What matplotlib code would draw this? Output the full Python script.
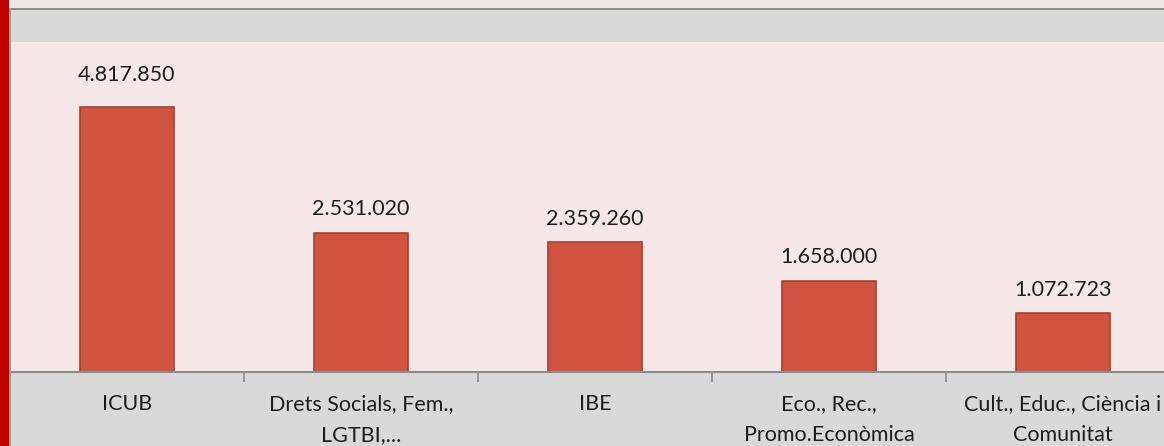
import matplotlib.pyplot as plt
from matplotlib.patches import Rectangle
import numpy as np

# data
categories = ["ICUB", "Drets Socials, Fem.,\nLGTBI,...", "IBE",
              "Eco., Rec.,\nPromo.Econòmica", "Cult., Educ., Ciència i\nComunitat"]
values = [4817850, 2531020, 2359260, 1658000, 1072723]
value_labels = ["4.817.850", "2.531.020", "2.359.260", "1.658.000", "1.072.723"]

plt.rcParams['font.family'] = ['Lato', 'DejaVu Sans']

W, H = 1164, 446
fig = plt.figure(figsize=(W / 100, H / 100), dpi=100)
fig.patch.set_facecolor('#d9d9d9')

def px_rect(x0, y0, x1, y1, color):
    # y measured from the top of the image
    fig.patches.append(Rectangle((x0 / W, 1 - y1 / H), (x1 - x0) / W, (y1 - y0) / H,
                                 transform=fig.transFigure, facecolor=color,
                                 edgecolor='none', zorder=0))

px_rect(0, 0, W, 8, '#ece7e7')
px_rect(0, 8, W, 10, '#8c8c8c')
px_rect(9, 8, 11, H, '#9a9a9a')
px_rect(0, 0, 9, H, '#c00000')

# axes: category slot ~234px, first centre at x=127
left, right, top, base = 10, 1180, 42, 372
ax = fig.add_axes([left / W, 1 - base / H, (right - left) / W, (base - top) / H])
ax.set_facecolor('#f6e8e8')

x = np.arange(len(categories))
bars = ax.bar(x, values, width=0.405, color='#d0533f', edgecolor='#a6402f',
              linewidth=1.2, zorder=2)

# the first label sits a bit higher in the original
lift = [18.5, 12.5, 12.5, 12.5, 12.5]
for b, lab, dy in zip(bars, value_labels, lift):
    ax.annotate(lab, (b.get_x() + b.get_width() / 2, b.get_height()),
                xytext=(0, dy), textcoords='offset points',
                ha='center', va='baseline', fontsize=15.5, color='#1e1e1e')

ax.set_xlim(-0.5, len(categories) - 0.5)
ax.set_ylim(0, 6000000)
ax.set_yticks([])
ax.set_xticks(x)
ax.set_xticklabels(categories, fontsize=15.5, color='#1e1e1e', linespacing=1.65)
ax.tick_params(axis='x', which='major', length=0, pad=16)
ax.set_xticks(x[:-1] + 0.5, minor=True)
ax.tick_params(axis='x', which='minor', length=7, width=1.2, color='#8c8c8c')

for s in ['top', 'left', 'right']:
    ax.spines[s].set_visible(False)
ax.spines['bottom'].set_color('#8c8c8c')
ax.spines['bottom'].set_linewidth(1.5)

fig.savefig('out.png', dpi=100, facecolor=fig.get_facecolor())
